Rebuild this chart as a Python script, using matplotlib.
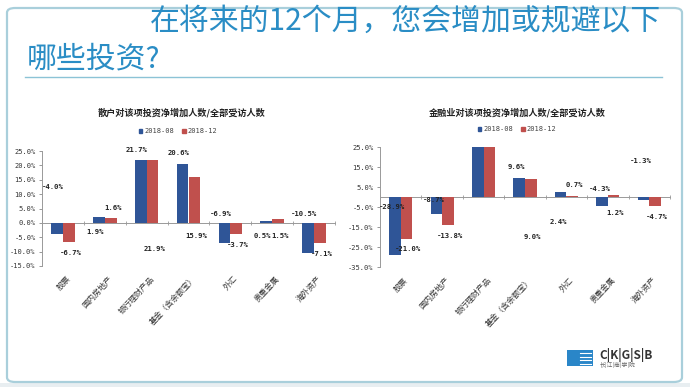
import numpy as np
import matplotlib
matplotlib.use('Agg')
from matplotlib import pyplot as plt
from matplotlib.patches import FancyBboxPatch, Rectangle, Patch
from matplotlib.transforms import blended_transform_factory

plt.rcParams['font.family'] = ['Noto Sans CJK SC', 'DejaVu Sans']

categories = [u'股票', u'国内房地产', u'银行理财产品', u'基金（含余额宝）', u'外汇', u'贵重金属', u'海外资产']
series_names = ['2018-08', '2018-12']

# 散户
retail_08 = [-4.0, 1.9, 21.7, 20.6, -6.9, 0.5, -10.5]
retail_12 = [-6.7, 1.6, 21.9, 15.9, -3.7, 1.5, -7.1]
# 金融业 (银行理财产品 两根柱子超出图表上限，图中未标数值)
fin_08 = [-28.9, -8.7, 25.0, 9.6, 2.4, -4.3, -1.3]
fin_12 = [-21.0, -13.8, 25.0, 9.0, 0.7, 1.2, -4.7]
fin_labeled = [True, True, False, True, True, True, True]

# 原图中数据标签错位的高度（版式，非数据）
retail_lbl_y08 = [12.5, -3.1, 25.4, 24.3, 3.1, -4.5, 3.1]
retail_lbl_y12 = [-10.4, 5.2, -9.0, -4.5, -7.7, -4.5, -10.8]
fin_lbl_y08 = [-5.0, -1.5, 0, 15.0, -12.5, 4.0, 18.0]
fin_lbl_y12 = [-26.0, -19.5, 0, -20.0, 6.0, -8.0, -10.0]

BLUE = '#2f5597'
RED = '#c0504d'
TITLE_BLUE = '#2a8dc5'
mono = 'DejaVu Sans Mono'

fig = plt.figure(figsize=(6.9, 3.87), dpi=100, facecolor='white')

# 幻灯片边框
fig.patches.append(Rectangle((0, 0), 1, 1 - 383 / 387, transform=fig.transFigure,
                             facecolor='#e8eef1', edgecolor='none', zorder=-3))
fig.patches.append(FancyBboxPatch((7 / 690, 1 - 382 / 387), 675 / 690, 374 / 387,
                                  boxstyle='round,pad=0,rounding_size=0.012',
                                  transform=fig.transFigure, facecolor='white',
                                  edgecolor='#a9cfdb', lw=1.6, zorder=-2))

fig.text(150 / 690, 1 - 21 / 387, u'在将来的12个月，您会增加或规避以下', color=TITLE_BLUE,
         fontsize=21.5, va='center', ha='left')
fig.text(27 / 690, 1 - 59 / 387, u'哪些投资?', color=TITLE_BLUE,
         fontsize=21.5, va='center', ha='left')
fig.add_artist(plt.Line2D([25 / 690, 662 / 690], [1 - 77 / 387] * 2, color='#8cc3d6',
                          lw=1.0, transform=fig.transFigure))


def draw_panel(rect, v08, v12, ly08, ly12, labeled, yticks, ylim, title, tpos, lpos, dx):
    ax = fig.add_axes(rect)
    ax.set_facecolor('none')
    x = np.arange(len(categories))
    w = 0.28
    ax.bar(x - w / 2, v08, w, color=BLUE, zorder=3)
    ax.bar(x + w / 2, v12, w, color=RED, zorder=3)
    ax.set_xlim(-0.5, len(categories) - 0.5)
    ax.set_ylim(*ylim)
    ax.set_yticks(yticks)
    ax.set_yticklabels(['%.1f%%' % t for t in yticks], fontsize=5, family=mono, color='#333333')
    ax.tick_params(axis='y', length=2.5, width=0.6, color='#888888', pad=2)
    for s in ['top', 'right']:
        ax.spines[s].set_visible(False)
    ax.spines['left'].set_color('#999999')
    ax.spines['left'].set_linewidth(0.7)
    ax.spines['bottom'].set_position(('data', 0))
    ax.spines['bottom'].set_color('#999999')
    ax.spines['bottom'].set_linewidth(0.7)
    ax.set_xticks(np.arange(len(categories) + 1) - 0.5)
    ax.set_xticklabels([])
    ax.tick_params(axis='x', length=3, width=0.6, color='#999999', direction='inout')
    trans = blended_transform_factory(ax.transData, ax.transAxes)
    for i, c in enumerate(categories):
        ax.text(i + 0.06, -0.07, c, transform=trans, rotation=47, ha='right', va='top',
                rotation_mode='anchor', fontsize=5.8, color='#333333')
    for i in range(len(categories)):
        if not labeled[i]:
            continue
        ax.text(i + dx[0], ly08[i], '%.1f%%' % v08[i], ha='center', va='center',
                fontsize=5.2, family=mono, fontweight='bold', color='#222222', zorder=5)
        ax.text(i + dx[1], ly12[i], '%.1f%%' % v12[i], ha='center', va='center',
                fontsize=5.2, family=mono, fontweight='bold', color='#222222', zorder=5)
    fig.text(tpos[0], tpos[1], title, ha='center', va='center', fontsize=6.6,
             fontweight='bold', color='#222222')
    handles = [Patch(color=BLUE, label=series_names[0]), Patch(color=RED, label=series_names[1])]
    fig.legend(handles=handles, loc='center', bbox_to_anchor=lpos, ncol=2, frameon=False,
               prop={'family': mono, 'size': 5}, labelcolor='#444444',
               handlelength=0.5, handleheight=0.5, handletextpad=0.3, columnspacing=1.2,
               borderpad=0)
    return ax


draw_panel([42 / 690, 1 - 266 / 387, 293 / 690, 115 / 387], retail_08, retail_12,
           retail_lbl_y08, retail_lbl_y12, [True] * 7, np.arange(-15, 26, 5), (-15, 25),
           u'散户对该项投资净增加人数/全部受访人数', (182 / 690, 1 - 113 / 387),
           (178 / 690, 1 - 131 / 387), (-0.23, 0.19))

draw_panel([380 / 690, 1 - 267 / 387, 290 / 690, 120 / 387], fin_08, fin_12,
           fin_lbl_y08, fin_lbl_y12, fin_labeled, np.arange(-35, 26, 10), (-35, 25),
           u'金融业对该项投资净增加人数/全部受访人数', (517 / 690, 1 - 113 / 387),
           (517 / 690, 1 - 129 / 387), (-0.2, 0.18))

# CKGSB 标志
fig.patches.append(Rectangle((567 / 690, 1 - 366 / 387), 26 / 690, 16 / 387,
                             transform=fig.transFigure, facecolor='#2a86c8', edgecolor='none'))
for k in range(4):
    fig.add_artist(plt.Line2D([580 / 690, 591 / 690], [1 - (353 + k * 3.5) / 387] * 2,
                              color='white', lw=0.8, transform=fig.transFigure))
fig.text(599 / 690, 1 - 355 / 387, 'C|K|G|S|B', fontsize=8.5, fontweight='bold',
         color='#333333', va='center', ha='left')
fig.text(600 / 690, 1 - 365 / 387, u'长|江|商|学|院', fontsize=4.2,
         color='#666666', va='center', ha='left')

fig.savefig('out.png', dpi=100, facecolor='white')
